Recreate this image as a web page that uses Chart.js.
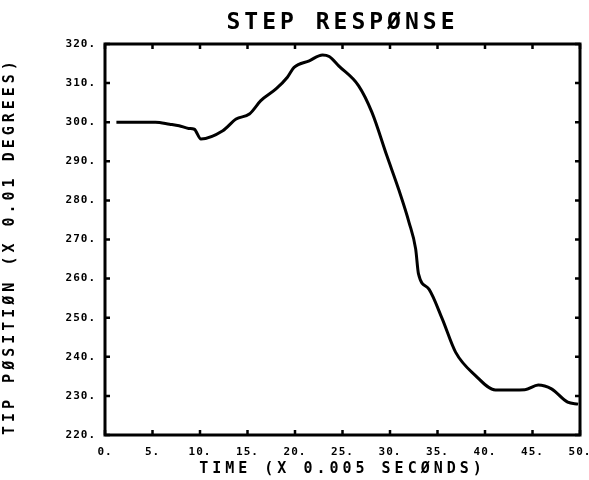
<!DOCTYPE html>
<html lang="en">
<head>
    <meta charset="UTF-8">
    <script src="https://cdn.jsdelivr.net/npm/chart.js@4.4.0/dist/chart.umd.min.js"></script>
    <title>Step Response</title>
    <style>
        * { margin: 0; padding: 0; box-sizing: border-box; }
        body { background: #ffffff; }
        .chart-container { position: relative; width: 589px; height: 480px; }
    </style>
</head>
<body>
    <div class="chart-container">
        <canvas id="stepChart"></canvas>
    </div>

    <script>
        // values (time in units of 0.005 s, position in 0.01 deg)
        const times = [1.2, 3, 5.3, 6.8, 7.8, 8.8, 9.4, 10.1, 12.4, 13.8, 15.2, 16.4, 18.0, 19.2, 19.9,
                       21.5, 22.9, 23.6, 24.6, 26.7, 28.1, 29.7, 30.9, 32.0, 32.7, 33.0, 34.1, 35.5,
                       36.9, 39.0, 41.1, 44.2, 45.6, 47.0, 48.7, 49.8];
        const positions = [300.0, 300.0, 300.0, 299.5, 299.1, 298.4, 298.2, 295.7, 297.8, 300.8, 302.1,
                           305.5, 308.5, 311.5, 314.0, 315.7, 317.2, 316.8, 314.4, 309.3, 302.5, 291.2,
                           282.9, 274.4, 267.6, 261.2, 257.3, 249.7, 241.2, 235.2, 231.5, 231.6, 232.8,
                           231.8, 228.4, 227.9];
        const xTicks = [0, 5, 10, 15, 20, 25, 30, 35, 40, 45, 50];
        const yTicks = [220, 230, 240, 250, 260, 270, 280, 290, 300, 310, 320];

        const points = times.map((t, i) => ({ x: t, y: positions[i] }));

        // plotter lettering is widely spaced; tick numbers are tighter
        const origDrawLabels = Chart.Scale.prototype.drawLabels;
        Chart.Scale.prototype.drawLabels = function (area) {
            const prev = this.ctx.letterSpacing;
            this.ctx.letterSpacing = '1px';
            origDrawLabels.call(this, area);
            this.ctx.letterSpacing = prev;
        };

        const frame = {
            id: 'frame',
            beforeDraw(chart) {
                chart.ctx.letterSpacing = '4px';
            },
            afterDraw(chart) {
                const { ctx, chartArea: a, scales: { x, y } } = chart;
                ctx.save();
                ctx.strokeStyle = '#000';
                ctx.lineWidth = 3;
                ctx.strokeRect(a.left, a.top, a.right - a.left, a.bottom - a.top);
                ctx.lineWidth = 2.5;
                ctx.beginPath();
                xTicks.forEach(v => {
                    const px = x.getPixelForValue(v);
                    ctx.moveTo(px, a.bottom); ctx.lineTo(px, a.bottom - 5);
                    ctx.moveTo(px, a.top); ctx.lineTo(px, a.top + 5);
                });
                yTicks.forEach(v => {
                    const py = y.getPixelForValue(v);
                    ctx.moveTo(a.left, py); ctx.lineTo(a.left + 5, py);
                    ctx.moveTo(a.right, py); ctx.lineTo(a.right - 5, py);
                });
                ctx.stroke();
                ctx.restore();
            }
        };

        const mono = "'DejaVu Sans Mono', monospace";

        new Chart(document.getElementById('stepChart'), {
            type: 'line',
            data: {
                datasets: [{
                    data: points,
                    borderColor: '#000',
                    borderWidth: 3,
                    pointRadius: 0,
                    fill: false,
                    cubicInterpolationMode: 'monotone'
                }]
            },
            options: {
                responsive: true,
                maintainAspectRatio: false,
                animation: false,
                layout: { padding: { left: 0, right: 9, top: 0, bottom: 0 } },
                plugins: {
                    legend: { display: false },
                    tooltip: { enabled: false },
                    title: {
                        display: true,
                        text: 'STEP RESPØNSE',
                        color: '#000',
                        fullSize: false,
                        font: { family: mono, size: 23, weight: 'bold', lineHeight: 1.2 },
                        padding: { top: 9, bottom: 7.4 }
                    }
                },
                scales: {
                    x: {
                        type: 'linear',
                        min: 0,
                        max: 50,
                        afterFit: s => { s.height = 45; s.paddingLeft = 0; s.paddingRight = 0; },
                        afterBuildTicks: s => { s.ticks = xTicks.map(v => ({ value: v })); },
                        grid: { display: false, drawTicks: false },
                        border: { display: false },
                        ticks: {
                            color: '#000',
                            padding: 11,
                            maxRotation: 0,
                            font: { family: mono, size: 11, weight: 'bold' },
                            callback: v => v + '.'
                        },
                        title: {
                            display: true,
                            text: 'TIME (X 0.005 SECØNDS)',
                            color: '#000',
                            font: { family: mono, size: 15, weight: 'bold', lineHeight: 1.2 },
                            padding: { top: 0, bottom: 2 }
                        }
                    },
                    y: {
                        type: 'linear',
                        min: 220,
                        max: 320,
                        afterFit: s => { s.width = 105; s.paddingTop = 0; s.paddingBottom = 0; },
                        afterBuildTicks: s => { s.ticks = yTicks.map(v => ({ value: v })); },
                        grid: { display: false, drawTicks: false },
                        border: { display: false },
                        ticks: {
                            color: '#000',
                            padding: 9,
                            font: { family: mono, size: 11, weight: 'bold' },
                            callback: v => v + '.'
                        },
                        title: {
                            display: true,
                            text: 'TIP PØSITIØN (X 0.01 DEGREES)',
                            align: 'start',
                            color: '#000',
                            font: { family: mono, size: 15, weight: 'bold', lineHeight: 1.2 },
                            padding: { top: 1, bottom: 0 }
                        }
                    }
                }
            },
            plugins: [frame]
        });
    </script>
</body>
</html>
